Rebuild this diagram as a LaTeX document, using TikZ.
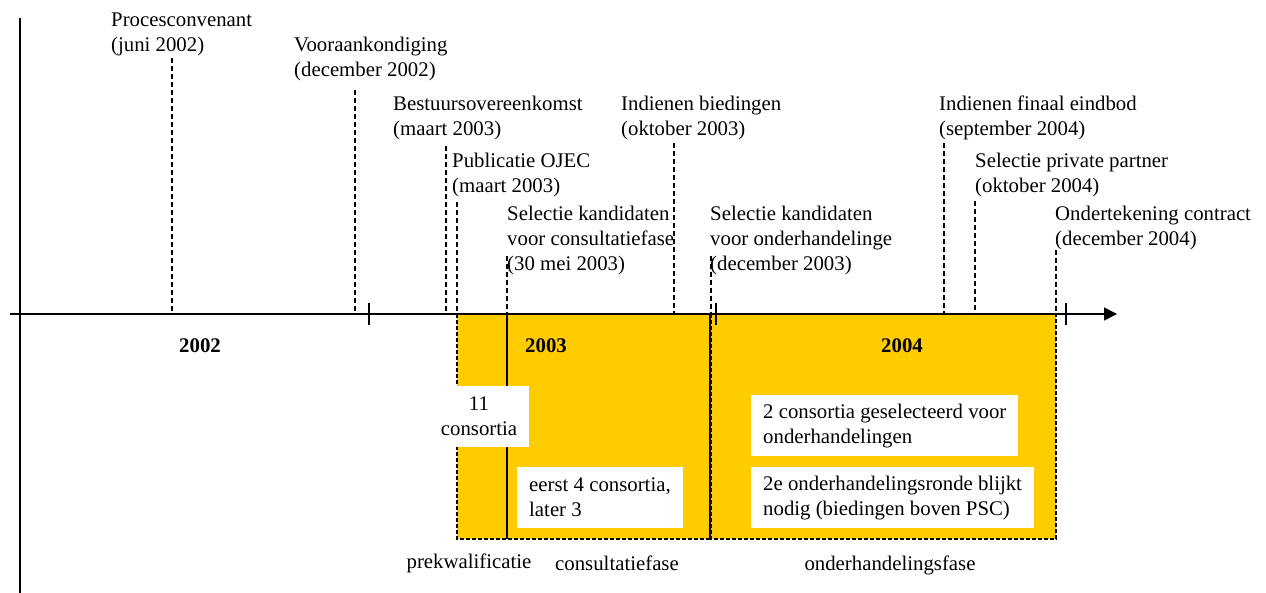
\documentclass[tikz,border=0pt]{standalone}
\usepackage{fontspec}
\setmainfont{Liberation Serif}
\usepackage{tikz}
\usetikzlibrary{arrows.meta,positioning}
\definecolor{PhaseYellow}{RGB}{255, 204, 0}
\newcommand{\tlfont}{\fontsize{20.8}{25}\selectfont}

\begin{document}
\begin{tikzpicture}[x=1pt, y=-1pt,
      every node/.style={font=\tlfont, inner sep=0pt},
      event/.style={anchor=north west, align=left},
      eventline/.style={line width=1.2pt, dash pattern=on 5pt off 3pt},
      axis/.style={line width=1.6pt},
      tickmark/.style={line width=1.6pt},
      phase/.style={fill=PhaseYellow, draw=black, line width=1.2pt, dash pattern=on 4pt off 2pt},
      divider/.style={line width=1.2pt},
      info/.style={fill=white, inner xsep=12pt, inner ysep=0pt, minimum height=61pt},
      yearlabel/.style={font=\tlfont\bfseries},
      phaselabel/.style={font=\tlfont}
    ]
      \useasboundingbox (0,0) rectangle (1266,593);

      % Phase blocks
      \draw[phase] (457,314) rectangle (710,539);
      \draw[phase] (711,314) rectangle (1056,539);
      \draw[divider] (507,314) -- (507,539);
      \draw[divider] (710,314) -- (710,539);

      % Axes
      \coordinate (axL) at (10,314);
      \coordinate (axR) at (1117,314);
      \coordinate (vTop) at (20,18);
      \coordinate (vBot) at (20,593);
      \draw[axis, -{Triangle[length=13pt, width=13pt]}] (axL) -- (axR);
      \draw[axis] (vTop) -- (vBot);
      \foreach \x in {369,716,1066}
        \draw[tickmark] (\x,303) -- (\x,325);

      % Event lines
      \foreach \x/\y in {172/58, 355/90, 446/146, 457/202, 507/256, 674/143, 711/256, 944/143, 975/201, 1056/250}
        \draw[eventline] (\x,\y) -- (\x,314);

      % Events
      \node[event] (conv) at (111,13) {Procesconvenant\\(juni 2002)};
      \node[event] (voor) at (294,37) {Vooraankondiging\\(december 2002)};
      \node[event] (best) at (393,96) {Bestuursovereenkomst\\(maart 2003)};
      \node[event] (ojec) at (452,153) {Publicatie OJEC\\(maart 2003)};
      \node[event] (selc) at (507,206) {Selectie kandidaten\\voor consultatiefase\\(30 mei 2003)};
      \node[event] (bied) at (621,96) {Indienen biedingen\\(oktober 2003)};
      \node[event] (selo) at (710,206) {Selectie kandidaten\\voor onderhandelinge\\(december 2003)};
      \node[event] (eind) at (939,96) {Indienen finaal eindbod\\(september 2004)};
      \node[event] (priv) at (975,153) {Selectie private partner\\(oktober 2004)};
      \node[event] (ond) at (1055,206) {Ondertekening contract\\(december 2004)};

      % Years
      \node[yearlabel] (y2002) at (200,346) {2002};
      \node[yearlabel] (y2003) at (546,346) {2003};
      \node[yearlabel] (y2004) at (902,346) {2004};

      % Consortia
      \node[info, minimum width=98pt, align=center] (cons11) at (479,416.5) {11\\consortia};
      \node[info, anchor=north west, align=left] (cons4) at (517,467) {eerst 4 consortia,\\later 3};
      \node[info, anchor=north west, align=left] (cons2) at (751,395) {2 consortia geselecteerd voor\\onderhandelingen};
      \node[info, anchor=north west, align=left] (ronde) at (751,467) {2e onderhandelingsronde blijkt\\nodig (biedingen boven PSC)};

      % Phases
      \node[phaselabel] (prek) at (469,563) {prekwalificatie};
      \node[phaselabel] (cons) at (617,563) {consultatiefase};
      \node[phaselabel] (onde) at (890,565) {onderhandelingsfase};
    \end{tikzpicture}
\end{document}
